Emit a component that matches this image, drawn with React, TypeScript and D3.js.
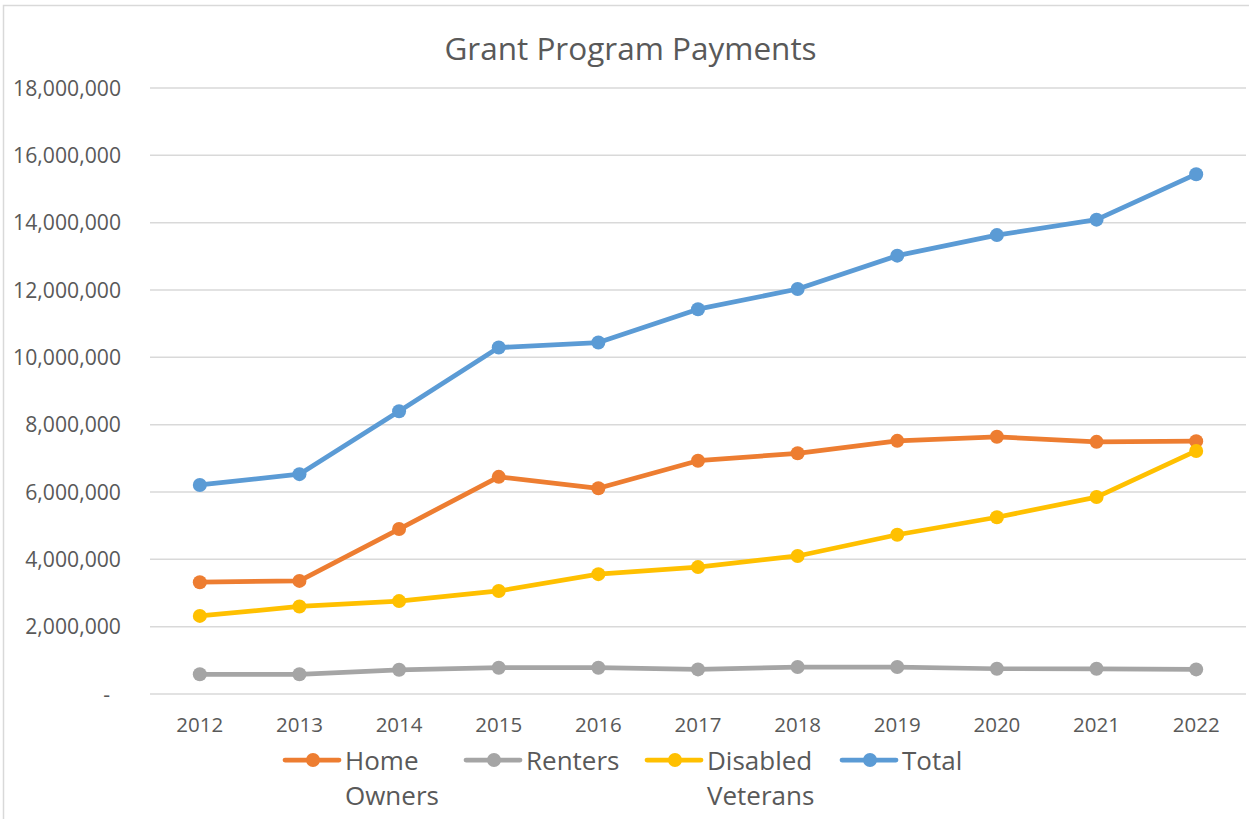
import React from "react";
import * as d3 from "d3";

const years = ["2012","2013","2014","2015","2016","2017","2018","2019","2020","2021","2022"];
const homeOwners = [3320000,3360000,4900000,6450000,6110000,6930000,7150000,7520000,7640000,7490000,7510000];
const renters = [585000,585000,720000,780000,780000,730000,800000,800000,750000,750000,730000];
const disabledVeterans = [2320000,2600000,2760000,3060000,3560000,3770000,4100000,4730000,5250000,5850000,7220000];
const total = [6210000,6530000,8400000,10290000,10440000,11430000,12030000,13020000,13630000,14090000,15440000];
const yTicks = [0,2000000,4000000,6000000,8000000,10000000,12000000,14000000,16000000,18000000];

const seriesList = [
  { name: ["Home", "Owners"], values: homeOwners, color: "#ED7D31" },
  { name: ["Renters"], values: renters, color: "#A5A5A5" },
  { name: ["Disabled", "Veterans"], values: disabledVeterans, color: "#FFC000" },
  { name: ["Total"], values: total, color: "#5B9BD5" },
];

const legendX = [285, 466, 647, 842];

export default function App() {
  const W = 1249, H = 819;
  const left = 150, right = 1246, top = 88, bottom = 694;
  const x = d3.scaleBand<string>().domain(years).range([left, right]);
  const y = d3.scaleLinear().domain([0, 18000000]).range([bottom, top]);
  const fmt = d3.format(",");
  const line = d3.line<number>()
    .x((_, i) => (x(years[i]) as number) + x.bandwidth() / 2)
    .y((v) => y(v));
  const font = "'Open Sans', sans-serif";
  const textColor = "#595959";

  return (
    <svg width={W} height={H} style={{ position: "absolute", left: 0, top: 0, background: "#fff" }} fontFamily={font}>
      <rect x={0} y={0} width={W} height={H} fill="#fff" />
      <rect x={3.5} y={5.5} width={1300} height={900} fill="none" stroke="#d9d9d9" strokeWidth={1.5} />
      <text x={630.5} y={60} textAnchor="middle" fontSize={31.5} fill={textColor}>Grant Program Payments</text>
      {yTicks.map((t) => (
        <g key={t}>
          <line x1={left} x2={right} y1={y(t)} y2={y(t)} stroke="#d9d9d9" strokeWidth={1.5} />
          <text x={t === 0 ? 110 : 121} y={y(t)} dy="0.36em" textAnchor="end" fontSize={21.2} fill={textColor}>
            {t === 0 ? "-" : fmt(t)}
          </text>
        </g>
      ))}
      {years.map((yr) => (
        <text key={yr} x={(x(yr) as number) + x.bandwidth() / 2} y={725} dy="0.36em" textAnchor="middle" fontSize={20.5} fill={textColor}>{yr}</text>
      ))}
      {seriesList.map((s) => (
        <g key={s.name.join(" ")}>
          <path d={line(s.values) || ""} fill="none" stroke={s.color} strokeWidth={4.75} strokeLinejoin="round" strokeLinecap="round" />
          {s.values.map((v, i) => (
            <circle key={i} cx={(x(years[i]) as number) + x.bandwidth() / 2} cy={y(v)} r={7} fill={s.color} />
          ))}
        </g>
      ))}
      {seriesList.map((s, k) => (
        <g key={"lg" + k} transform={`translate(${legendX[k]},760)`}>
          <line x1={0} x2={54} y1={0} y2={0} stroke={s.color} strokeWidth={4.75} strokeLinecap="round" />
          <circle cx={28} cy={0} r={7} fill={s.color} />
          {s.name.map((n, j) => (
            <text key={j} x={60} y={9.5 + j * 35} fontSize={26} fill={textColor}>{n}</text>
          ))}
        </g>
      ))}
    </svg>
  );
}
